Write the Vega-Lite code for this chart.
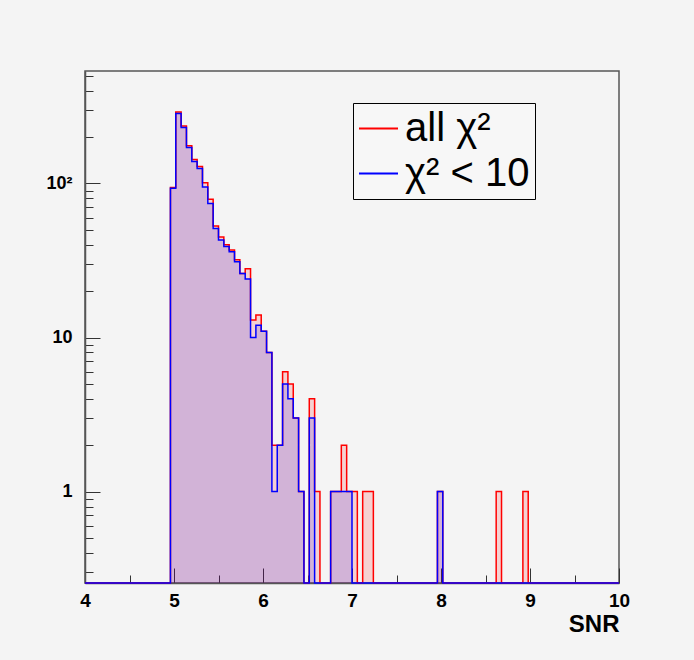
{
  "$schema": "https://vega.github.io/schema/vega-lite/v6.json",
  "width": 534,
  "height": 512,
  "autosize": {"type": "none"},
  "padding": {"left": 85, "top": 71, "right": 75, "bottom": 77},
  "background": "#f4f4f4",
  "config": {
    "font": "Liberation Sans",
    "view": {"stroke": "#555555", "strokeWidth": 1.5},
    "axis": {"grid": false, "domainColor": "#555555", "domainWidth": 1.5, "tickColor": "#333333", "tickWidth": 1, "labelColor": "#000000", "titleColor": "#000000", "labelFlush": false},
    "legend": {
      "symbolType": "stroke",
      "symbolSize": 1521,
      "symbolStrokeWidth": 2,
      "labelFontSize": 40,
      "labelFont": "Liberation Sans",
      "labelColor": "#000000",
      "labelLimit": 0,
      "padding": 5,
      "rowPadding": 4,
      "labelOffset": 6,
      "strokeColor": "#000000",
      "fillColor": "#f7f7f7"
    }
  },
  "data": {
    "values": [
      {"sel": "all χ²", "snr": 4.00, "count": 0},
      {"sel": "all χ²", "snr": 4.96, "count": 94},
      {"sel": "all χ²", "snr": 5.02, "count": 291},
      {"sel": "all χ²", "snr": 5.08, "count": 236},
      {"sel": "all χ²", "snr": 5.14, "count": 176},
      {"sel": "all χ²", "snr": 5.20, "count": 143},
      {"sel": "all χ²", "snr": 5.26, "count": 129},
      {"sel": "all χ²", "snr": 5.32, "count": 101},
      {"sel": "all χ²", "snr": 5.38, "count": 79},
      {"sel": "all χ²", "snr": 5.44, "count": 53},
      {"sel": "all χ²", "snr": 5.50, "count": 45},
      {"sel": "all χ²", "snr": 5.56, "count": 40},
      {"sel": "all χ²", "snr": 5.62, "count": 37},
      {"sel": "all χ²", "snr": 5.68, "count": 32},
      {"sel": "all χ²", "snr": 5.74, "count": 26},
      {"sel": "all χ²", "snr": 5.80, "count": 28},
      {"sel": "all χ²", "snr": 5.86, "count": 13},
      {"sel": "all χ²", "snr": 5.92, "count": 14},
      {"sel": "all χ²", "snr": 5.98, "count": 11},
      {"sel": "all χ²", "snr": 6.04, "count": 8},
      {"sel": "all χ²", "snr": 6.10, "count": 2},
      {"sel": "all χ²", "snr": 6.16, "count": 2},
      {"sel": "all χ²", "snr": 6.22, "count": 6},
      {"sel": "all χ²", "snr": 6.28, "count": 5},
      {"sel": "all χ²", "snr": 6.34, "count": 3},
      {"sel": "all χ²", "snr": 6.40, "count": 1},
      {"sel": "all χ²", "snr": 6.46, "count": 0},
      {"sel": "all χ²", "snr": 6.52, "count": 4},
      {"sel": "all χ²", "snr": 6.58, "count": 1},
      {"sel": "all χ²", "snr": 6.64, "count": 0},
      {"sel": "all χ²", "snr": 6.76, "count": 1},
      {"sel": "all χ²", "snr": 6.82, "count": 1},
      {"sel": "all χ²", "snr": 6.88, "count": 2},
      {"sel": "all χ²", "snr": 6.94, "count": 1},
      {"sel": "all χ²", "snr": 7.00, "count": 1},
      {"sel": "all χ²", "snr": 7.06, "count": 0},
      {"sel": "all χ²", "snr": 7.12, "count": 1},
      {"sel": "all χ²", "snr": 7.18, "count": 1},
      {"sel": "all χ²", "snr": 7.24, "count": 0},
      {"sel": "all χ²", "snr": 7.96, "count": 1},
      {"sel": "all χ²", "snr": 8.02, "count": 0},
      {"sel": "all χ²", "snr": 8.62, "count": 1},
      {"sel": "all χ²", "snr": 8.68, "count": 0},
      {"sel": "all χ²", "snr": 8.92, "count": 1},
      {"sel": "all χ²", "snr": 8.98, "count": 0},
      {"sel": "all χ²", "snr": 10.00, "count": 0},
      {"sel": "χ² < 10", "snr": 4.00, "count": 0},
      {"sel": "χ² < 10", "snr": 4.96, "count": 93},
      {"sel": "χ² < 10", "snr": 5.02, "count": 285},
      {"sel": "χ² < 10", "snr": 5.08, "count": 231},
      {"sel": "χ² < 10", "snr": 5.14, "count": 171},
      {"sel": "χ² < 10", "snr": 5.20, "count": 139},
      {"sel": "χ² < 10", "snr": 5.26, "count": 125},
      {"sel": "χ² < 10", "snr": 5.32, "count": 95},
      {"sel": "χ² < 10", "snr": 5.38, "count": 74},
      {"sel": "χ² < 10", "snr": 5.44, "count": 51},
      {"sel": "χ² < 10", "snr": 5.50, "count": 43},
      {"sel": "χ² < 10", "snr": 5.56, "count": 39},
      {"sel": "χ² < 10", "snr": 5.62, "count": 36},
      {"sel": "χ² < 10", "snr": 5.68, "count": 31},
      {"sel": "χ² < 10", "snr": 5.74, "count": 26},
      {"sel": "χ² < 10", "snr": 5.80, "count": 24},
      {"sel": "χ² < 10", "snr": 5.86, "count": 10},
      {"sel": "χ² < 10", "snr": 5.92, "count": 12},
      {"sel": "χ² < 10", "snr": 5.98, "count": 11},
      {"sel": "χ² < 10", "snr": 6.04, "count": 8},
      {"sel": "χ² < 10", "snr": 6.10, "count": 1},
      {"sel": "χ² < 10", "snr": 6.16, "count": 2},
      {"sel": "χ² < 10", "snr": 6.22, "count": 5},
      {"sel": "χ² < 10", "snr": 6.28, "count": 4},
      {"sel": "χ² < 10", "snr": 6.34, "count": 3},
      {"sel": "χ² < 10", "snr": 6.40, "count": 1},
      {"sel": "χ² < 10", "snr": 6.46, "count": 0},
      {"sel": "χ² < 10", "snr": 6.52, "count": 3},
      {"sel": "χ² < 10", "snr": 6.58, "count": 0},
      {"sel": "χ² < 10", "snr": 6.76, "count": 1},
      {"sel": "χ² < 10", "snr": 6.82, "count": 1},
      {"sel": "χ² < 10", "snr": 6.88, "count": 1},
      {"sel": "χ² < 10", "snr": 6.94, "count": 1},
      {"sel": "χ² < 10", "snr": 7.00, "count": 0},
      {"sel": "χ² < 10", "snr": 7.96, "count": 1},
      {"sel": "χ² < 10", "snr": 8.02, "count": 0},
      {"sel": "χ² < 10", "snr": 10.00, "count": 0}
    ]
  },
  "layer": [
    {
      "transform": [{"filter": "datum.sel == 'all χ²'"}],
      "mark": {"type": "area", "interpolate": "step-after", "fill": "#ff0000", "fillOpacity": 0.14},
      "encoding": {
        "x": {"field": "snr", "type": "quantitative", "scale": {"domain": [4, 10], "nice": false, "zero": false},
          "axis": {"orient": "bottom", "values": [4.5, 5.5, 6.5, 7.5, 8.5, 9.5], "labels": false, "tickSize": -8, "domain": false, "title": null}},
        "y": {"field": "count", "type": "quantitative", "stack": null, "scale": {"type": "log", "domain": [0.255, 537], "clamp": true, "nice": false},
          "axis": {"orient": "left", "values": [0.3, 0.4, 0.5, 0.6, 0.7, 0.8, 0.9, 2, 3, 4, 5, 6, 7, 8, 9, 20, 30, 40, 50, 60, 70, 80, 90, 200, 300, 400, 500], "labels": false, "tickSize": -8, "domain": false, "title": null}}
      }
    },
    {
      "transform": [{"filter": "datum.sel == 'χ² < 10'"}],
      "mark": {"type": "area", "interpolate": "step-after", "fill": "#0000ff", "fillOpacity": 0.14},
      "encoding": {
        "x": {"field": "snr", "type": "quantitative", "axis": null},
        "y": {"field": "count", "type": "quantitative", "stack": null, "axis": null}
      }
    },
    {
      "mark": {"type": "line", "interpolate": "step-after", "strokeWidth": 1.5},
      "encoding": {
        "x": {"field": "snr", "type": "quantitative",
          "axis": {"orient": "bottom", "values": [4, 5, 6, 7, 8, 9, 10], "format": "d", "tickSize": -15, "labelPadding": 23, "labelFontSize": 19, "labelFontWeight": "bold",
            "title": "SNR", "titleFontSize": 24, "titleFontWeight": "bold", "titleAnchor": "end", "titleAlign": "right", "titleBaseline": "top", "titleY": 29}},
        "y": {"field": "count", "type": "quantitative", "stack": null,
          "axis": {"orient": "left", "values": [1, 10, 100], "labelExpr": "datum.value == 100 ? '10²' : (datum.value == 10 ? '10' : '1')", "tickSize": -15, "labelPadding": 28, "labelFontSize": 18, "labelFontWeight": "bold", "title": null}},
        "color": {"field": "sel", "type": "nominal", "scale": {"domain": ["all χ²", "χ² < 10"], "range": ["#ff0000", "#0000ff"]}, "legend": {"title": null, "orient": "none", "legendX": 268, "legendY": 32}}
      }
    }
  ],
  "resolve": {"axis": {"x": "independent", "y": "independent"}}
}
